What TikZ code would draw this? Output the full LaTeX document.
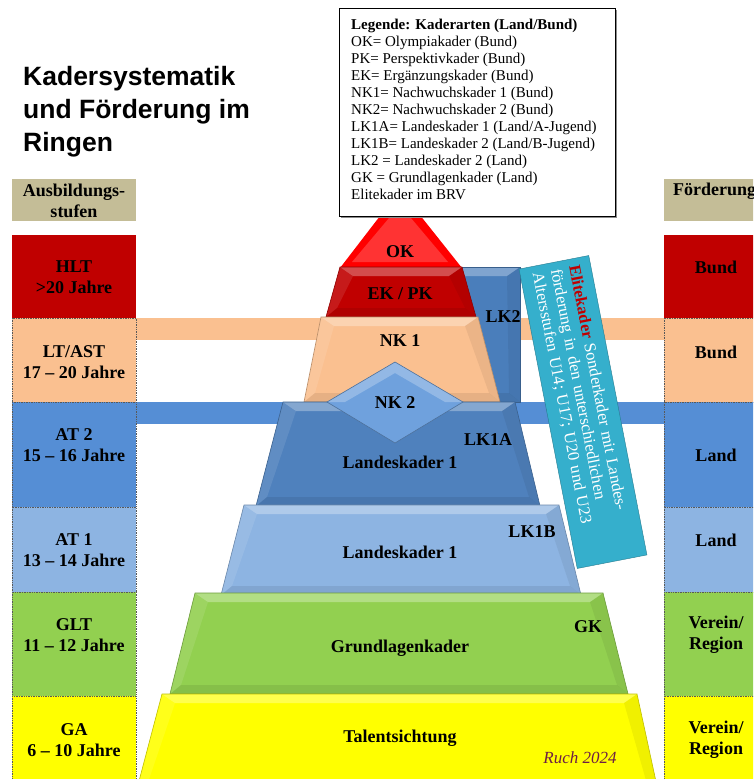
\documentclass[tikz,border=0pt]{standalone}
\usepackage{fontspec}
\setmainfont{Liberation Serif}
\newfontfamily\titlefont{Liberation Sans}
\usetikzlibrary{calc}
\definecolor{kred}{HTML}{C00000}
\definecolor{kok}{HTML}{FF0000}
\definecolor{kpeach}{HTML}{FAC090}
\definecolor{kblue}{HTML}{558ED5}
\definecolor{klight}{HTML}{8DB4E2}
\definecolor{kgreen}{HTML}{92D050}
\definecolor{kyellow}{HTML}{FFFF00}
\definecolor{khead}{HTML}{C4BD97}
\definecolor{kdeep}{HTML}{4F81BD}
\definecolor{klk}{HTML}{4A7EBB}
\definecolor{knk}{HTML}{6FA1DD}
\definecolor{kteal}{HTML}{35AFCC}
\definecolor{ksign}{HTML}{6E1F44}
\newcommand{\kbevel}[5]{%
  \fill[#5] (#1) -- (#2) -- (#3) -- (#4) -- cycle;
  \fill[white,opacity=.3] (#1) -- (#2) -- ($(#2)+(-13,9)$) -- ($(#1)+(13,9)$) -- cycle;
  \fill[white,opacity=.1] (#1) -- ($(#1)+(13,9)$) -- ($(#4)+(11,-9)$) -- (#4) -- cycle;
  \fill[black,opacity=.06] (#2) -- (#3) -- ($(#3)+(-11,-9)$) -- ($(#2)+(-13,9)$) -- cycle;
  \fill[black,opacity=.08] (#4) -- ($(#4)+(11,-9)$) -- ($(#3)+(-11,-9)$) -- (#3) -- cycle;
  \draw[#5!75!black,line width=.6pt] (#1) -- (#2) -- (#3) -- (#4) -- cycle;
}
\begin{document}
\begin{tikzpicture}[x=1pt,y=-1pt,
    lab/.style={font=\bfseries\fontsize{18}{21}\selectfont,align=center,inner sep=0pt},
    legtext/.style={font=\fontsize{15}{17}\selectfont,align=left,inner sep=0pt,anchor=north west},
    rowline/.style={densely dotted,draw=black!65,line width=.7pt}]
  \useasboundingbox (0,0) rectangle (753,779);
  \clip (0,0) rectangle (753,779);
  \fill[white] (0,0) rectangle (753,779);
  \node[font=\titlefont\bfseries\fontsize{26.5}{33}\selectfont,align=left,inner sep=0pt,anchor=north west] (title) at (23,66) {Kadersystematik\\und Förderung im\\Ringen};
  \fill[khead] (12,179) rectangle (136,221);
  \fill[khead] (664,179) rectangle (790,221);
  \node[lab] (head-l) at (74,201) {Ausbildungs-\\stufen};
  \node[lab,anchor=west] (head-r) at (673,191) {Förderung};
  \fill[kpeach] (136,318) rectangle (664,340);
  \fill[kblue] (136,402) rectangle (664,424);
  \foreach \n/\t/\b/\c/\d in {hlt/235/318/kred/0,lt/318/402/kpeach/1,atz/402/507/kblue/1,ate/507/592/klight/1,glt/592/696/kgreen/1,ga/696/779/kyellow/1} {
    \fill[\c] (12,\t) rectangle (136,\b);
    \fill[\c] (664,\t) rectangle (790,\b);
    \ifnum\d=1
      \draw[rowline] (12,\t) rectangle (136,\b);
      \draw[rowline] (664,\t) rectangle (790,\b);
    \fi
  }
  \foreach \n/\y/\txt in {hlt/277/{HLT\\>20 Jahre},lt/362/{LT/AST\\17 -- 20 Jahre},atz/445/{AT 2\\15 -- 16 Jahre},ate/550/{AT 1\\13 -- 14 Jahre},glt/635/{GLT\\11 -- 12 Jahre},ga/740/{GA\\6 -- 10 Jahre}} {
    \node[lab] (l-\n) at (74,\y) {\txt};
  }
  \foreach \n/\y/\txt in {hlt/267/Bund,lt/352/Bund,atz/455/Land,ate/540/Land,glt/635/{Verein/\\Region},ga/740/{Verein/\\Region}} {
    \node[lab] (r-\n) at (716,\y) {\txt};
  }
  \kbevel{450,267}{520,267}{520,402}{450,402}{klk}
  \fill[kok] (400,190) -- (462,268) -- (340,268) -- cycle;
  \fill[white,opacity=.2] (400,205) -- (448,262) -- (352,262) -- cycle;
  \kbevel{340,267}{462,267}{476,317}{326,317}{kred}
  \kbevel{321,317}{478,317}{500,402}{304,402}{kpeach}
  \kbevel{283,402}{515,402}{540,506}{256,506}{kdeep}
  \fill[knk] (395,362) -- (463,402) -- (395,443) -- (327,402) -- cycle;
  \fill[white,opacity=.25] (395,362) -- (463,402) -- (445,402) -- (395,373) -- (345,402) -- (327,402) -- cycle;
  \draw[knk!70!black,line width=.6pt] (395,362) -- (463,402) -- (395,443) -- (327,402) -- cycle;
  \kbevel{244,505}{559,505}{581,595}{221,595}{klight}
  \kbevel{195,593}{603,593}{628,694}{170,694}{kgreen}
  \kbevel{162,694}{637,694}{660,800}{134,800}{kyellow}
  \node[lab] (ok) at (400,252) {OK};
  \node[lab] (ekpk) at (400,294) {EK / PK};
  \node[lab] (lk2) at (503,317) {LK2};
  \node[lab] (nk1) at (400,341) {NK 1};
  \node[lab] (nk2) at (395,403) {NK 2};
  \node[lab] (lk1a) at (488,440) {LK1A};
  \node[lab] (lk1a-name) at (400,462) {Landeskader 1};
  \node[lab] (lk1b) at (532,532) {LK1B};
  \node[lab] (lk1b-name) at (400,552) {Landeskader 1};
  \node[lab] (gk) at (588,627) {GK};
  \node[lab] (gk-name) at (400,648) {Grundlagenkader};
  \node[lab] (ga-name) at (400,738) {Talentsichtung};
  \node[font=\itshape\fontsize{17}{20}\selectfont,text=ksign] (sign) at (580,758) {Ruch 2024};
  \node[rotate=-79,fill=kteal,draw=kteal!70!black,text=white,text width=291pt,minimum height=71pt,inner xsep=7pt,align=left,font=\fontsize{16.5}{18.5}\selectfont] (elite) at (583,412) {\textcolor{kred}{\textbf{Elitekader}} Sonderkader mit Landes-\\förderung in den unterschiedlichen\\Altersstufen U14; U17; U20 und U23};
  \fill[black!45] (341,10) rectangle (617,218);
  \draw[fill=white,line width=.8pt] (339,8) rectangle (615,216);
  \node[legtext] (legend) at (351,19) {\textbf{Legende: Kaderarten (Land/Bund)}\\OK= Olympiakader (Bund)\\PK= Perspektivkader (Bund)\\EK= Ergänzungskader (Bund)\\NK1= Nachwuchskader 1 (Bund)\\NK2= Nachwuchskader 2 (Bund)\\LK1A= Landeskader 1 (Land/A-Jugend)\\LK1B= Landeskader 2 (Land/B-Jugend)\\LK2 = Landeskader 2 (Land)\\GK = Grundlagenkader (Land)\\Elitekader im BRV};
\end{tikzpicture}
\end{document}
